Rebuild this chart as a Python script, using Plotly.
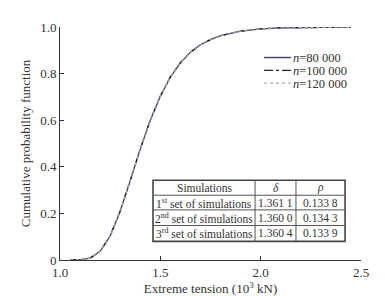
import plotly.graph_objects as go

# Data
tension = [1.05, 1.10, 1.15, 1.20, 1.25, 1.30, 1.35, 1.40, 1.45, 1.50, 1.55, 1.60,
           1.65, 1.70, 1.75, 1.80, 1.90, 2.00, 2.10, 2.20, 2.30, 2.45]
cdf_80k = [0.000, 0.001, 0.008, 0.037, 0.103, 0.209, 0.340, 0.476, 0.600, 0.703, 0.785, 0.846,
           0.891, 0.924, 0.946, 0.963, 0.982, 0.992, 0.996, 0.998, 0.999, 1.000]
cdf_100k = [0.000, 0.001, 0.008, 0.037, 0.104, 0.210, 0.341, 0.477, 0.601, 0.704, 0.786, 0.847,
            0.892, 0.924, 0.946, 0.963, 0.982, 0.992, 0.996, 0.998, 0.999, 1.000]
cdf_120k = [0.000, 0.001, 0.008, 0.037, 0.103, 0.209, 0.340, 0.476, 0.600, 0.703, 0.785, 0.846,
            0.891, 0.924, 0.946, 0.963, 0.982, 0.992, 0.996, 0.998, 0.999, 1.000]

series_names = ["<i>n</i>=80 000", "<i>n</i>=100 000", "<i>n</i>=120 000"]
series_colors = ["#4a3a70", "#222222", "#b0b0b0"]
series_dashes = ["solid", "dashdot", "dot"]

x_ticks = [1.0, 1.5, 2.0, 2.5]
x_ticklabels = ["1.0", "1.5", "2.0", "2.5"]
y_ticks = [0, 0.2, 0.4, 0.6, 0.8, 1.0]
y_ticklabels = ["0", "0.2", "0.4", "0.6", "0.8", "1.0"]

table_header = ["Simulations", "<i>δ</i>", "<i>ρ</i>"]
table_col1 = ["1<sup>st</sup> set of simulations", "2<sup>nd</sup> set of simulations", "3<sup>rd</sup> set of simulations"]
table_delta = ["1.361 1", "1.360 0", "1.360 4"]
table_rho = ["0.133 8", "0.134 3", "0.133 9"]

FONT = "Liberation Serif"
TXT = "#333333"

fig = go.Figure()
for yv, nm, col, ds in zip([cdf_80k, cdf_100k, cdf_120k], series_names, series_colors, series_dashes):
    fig.add_trace(go.Scatter(x=tension, y=yv, mode="lines", name=nm,
                             line=dict(color=col, width=1.3, dash=ds)))

shapes = []
annotations = []

# Compact legend (in plot-area fractions)
leg_rows = [0.869, 0.814, 0.759]
for yr, nm, col, ds in zip(leg_rows, series_names, series_colors, series_dashes):
    shapes.append(dict(type="line", xref="paper", yref="paper", x0=0.678, x1=0.767, y0=yr, y1=yr,
                       line=dict(color=col, width=1.4, dash=ds)))
    annotations.append(dict(xref="paper", yref="paper", x=0.772, y=yr, text=nm, showarrow=False,
                            xanchor="left", yanchor="middle", height=13, borderpad=0,
                            font=dict(family=FONT, size=12.5, color=TXT)))

# Table overlay (in plot-area fractions)
col_edges = [0.309, 0.648, 0.784, 0.947]
row_edges = [0.342, 0.278, 0.215, 0.148, 0.080]
shapes.append(dict(type="rect", xref="paper", yref="paper",
                   x0=col_edges[0], x1=col_edges[-1], y0=row_edges[-1], y1=row_edges[0],
                   line=dict(color="#444444", width=1.6), fillcolor="white", layer="above"))
for ye in row_edges[1:-1]:
    shapes.append(dict(type="line", xref="paper", yref="paper",
                       x0=col_edges[0], x1=col_edges[-1], y0=ye, y1=ye,
                       line=dict(color="#555555", width=1), layer="above"))
for xe in col_edges[1:-1]:
    shapes.append(dict(type="line", xref="paper", yref="paper",
                       x0=xe, x1=xe, y0=row_edges[-1], y1=row_edges[0],
                       line=dict(color="#555555", width=1), layer="above"))
rows = [table_header] + [[a, b, c] for a, b, c in zip(table_col1, table_delta, table_rho)]
for ri, row in enumerate(rows):
    yc = (row_edges[ri] + row_edges[ri + 1]) / 2
    for ci, txt in enumerate(row):
        xc = (col_edges[ci] + col_edges[ci + 1]) / 2
        annotations.append(dict(xref="paper", yref="paper", x=xc, y=yc, text=txt,
                                showarrow=False, xanchor="center", yanchor="middle",
                                font=dict(family=FONT, size=11.5, color=TXT)))

fig.update_layout(
    width=385, height=296,
    margin=dict(l=52, r=32, t=19, b=40),
    paper_bgcolor="white", plot_bgcolor="white",
    font=dict(family=FONT, size=12, color=TXT),
    showlegend=False,
    shapes=shapes,
    annotations=annotations,
    xaxis=dict(range=[1.0, 2.5], tickvals=x_ticks, ticktext=x_ticklabels,
               ticks="inside", ticklen=4, tickcolor=TXT,
               showline=True, linecolor=TXT, linewidth=1,
               showgrid=False, zeroline=False, tickfont=dict(size=13),
               title=dict(text="Extreme tension (10<sup>3</sup> kN)", standoff=3,
                          font=dict(family=FONT, size=13))),
    yaxis=dict(range=[0, 1.0], tickvals=y_ticks, ticktext=y_ticklabels,
               ticks="inside", ticklen=4, tickcolor=TXT,
               showline=True, linecolor=TXT, linewidth=1,
               showgrid=False, zeroline=False, tickfont=dict(size=13),
               title=dict(text="Cumulative probability function", standoff=6,
                          font=dict(family=FONT, size=13))),
)

fig.write_html("out.html")
